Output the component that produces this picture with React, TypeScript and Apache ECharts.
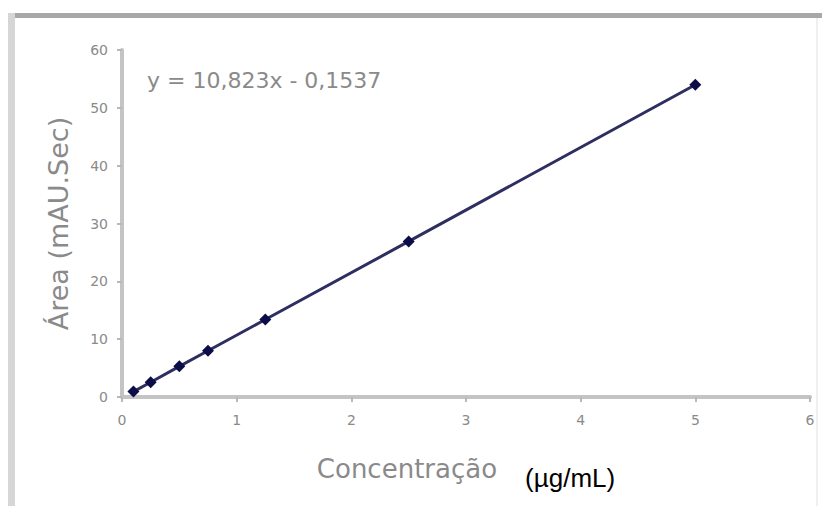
import React, { useEffect, useRef } from "react";
import * as echarts from "echarts";

const concentrations = [0.1, 0.25, 0.5, 0.75, 1.25, 2.5, 5];
const areas = [0.93, 2.55, 5.3, 8.0, 13.4, 26.9, 54.0];
const equationText = "y = 10,823x - 0,1537";
const xTitle = "Concentração";
const xUnit = "(µg/mL)";
const yTitle = "Área (mAU.Sec)";

export default function App() {
  const ref = useRef<HTMLDivElement>(null);
  useEffect(() => {
    if (!ref.current) return;
    const chart = echarts.init(ref.current, undefined, { renderer: "svg" });
    const data = concentrations.map((c, i) => [c, areas[i]]);
    const labelColor = "#8a8a8a";
    chart.setOption({
      animation: false,
      backgroundColor: "#ffffff",
      grid: { left: 122, right: 12, top: 50, bottom: 109 },
      xAxis: {
        type: "value",
        min: 0,
        max: 6,
        interval: 1,
        splitLine: { show: false },
        axisLine: { show: true, lineStyle: { color: "#c4c4c4", width: 4 } },
        axisTick: { show: true, inside: false, length: 5, lineStyle: { color: "#b8b8b8", width: 2 } },
        axisLabel: { color: labelColor, fontFamily: "DejaVu Sans", fontSize: 14, margin: 16 },
        name: `{a|${xTitle}}{b|${xUnit}}`,
        nameLocation: "middle",
        nameGap: 50,
        nameTextStyle: {
          rich: {
            a: { fontFamily: "DejaVu Sans", fontSize: 26, color: labelColor, lineHeight: 44, verticalAlign: "middle", padding: [0, 28, 0, 0] },
            b: { fontFamily: "Liberation Sans", fontSize: 26, color: "#000000", lineHeight: 26, verticalAlign: "bottom" },
          },
        },
      },
      yAxis: {
        type: "value",
        min: 0,
        max: 60,
        interval: 10,
        splitLine: { show: false },
        axisLine: { show: true, lineStyle: { color: "#c4c4c4", width: 4 } },
        axisTick: { show: true, inside: false, length: 5, lineStyle: { color: "#b8b8b8", width: 2 } },
        axisLabel: { color: labelColor, fontFamily: "DejaVu Sans", fontSize: 14, margin: 14 },
        name: yTitle,
        nameLocation: "middle",
        nameGap: 50,
        nameTextStyle: { fontFamily: "DejaVu Sans", fontSize: 27, color: labelColor },
      },
      graphic: [
        { type: "rect", left: 8, top: 13, shape: { width: 814, height: 5 }, style: { fill: "#a8a8a8" }, silent: true },
        { type: "rect", left: 8, top: 13, shape: { width: 7, height: 493 }, style: { fill: "#d6d6d6" }, silent: true },
        { type: "rect", left: 816, top: 18, shape: { width: 2, height: 488 }, style: { fill: "#efefef" }, silent: true },
        {
          type: "text",
          left: 147,
          top: 69,
          style: { text: equationText, fill: "#8a8a8a", fontFamily: "DejaVu Sans", fontSize: 22 },
          silent: true,
        },
      ],
      series: [
        {
          type: "line",
          data,
          symbol: "diamond",
          symbolSize: 12,
          itemStyle: { color: "#0c0c48" },
          lineStyle: { color: "#2e2e60", width: 3 },
        },
      ],
    });
    return () => chart.dispose();
  }, []);
  return (
    <div
      ref={ref}
      style={{ position: "fixed", left: 0, top: 0, width: 822, height: 506 }}
    />
  );
}
